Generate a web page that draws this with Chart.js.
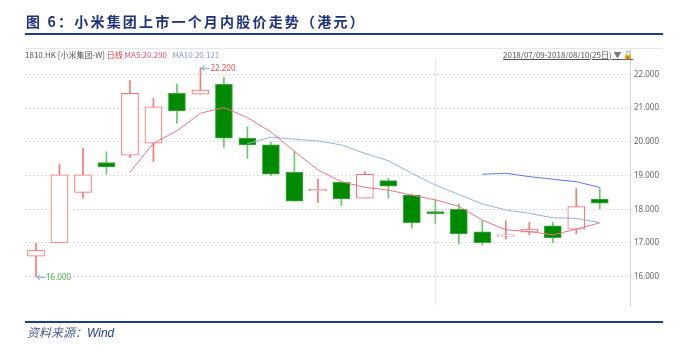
<!DOCTYPE html>
<html>
<head>
<meta charset="utf-8">
<script src="https://cdn.jsdelivr.net/npm/chart.js@4"></script>
<style>
  body { margin: 0; background: #fff; }
  #wrap { position: relative; width: 700px; height: 351px; overflow: hidden; }
  #title {
    position: absolute; left: 26px; top: 11px;
    font: bold 14px "Noto Sans CJK SC", sans-serif; color: #1d3180; letter-spacing: 2.2px;
    white-space: nowrap;
  }
  #titleLine { position: absolute; left: 25px; top: 33px; width: 638px; height: 2px; background: #1f3c99; }
  #info {
    position: absolute; left: 25px; top: 49px;
    font: 8px "Noto Sans CJK SC", sans-serif; color: #555; white-space: nowrap;
  }
  #range {
    position: absolute; left: 503px; top: 49px;
    font: 8px "Noto Sans CJK SC", sans-serif; color: #555; white-space: nowrap; text-decoration: underline;
  }
  #srcLine { position: absolute; left: 25px; top: 321px; width: 638px; height: 2px; background: #1f3c99; }
  #source { position: absolute; left: 27px; top: 323px; font-size: 12px; white-space: nowrap; }
  #source .cn { font-family: "Noto Sans CJK SC", sans-serif; font-style: italic; color: #4a5a8f; }
  #source .en { font-family: "Liberation Sans", Arial, sans-serif; font-style: italic; color: #1f3c99; }
  canvas { position: absolute; left: 0; top: 0; }
</style>
</head>
<body>
<div id="wrap">
  <canvas id="kline" width="700" height="351"></canvas>
  <div id="title">图 6：小米集团上市一个月内股价走势（港元）</div>
  <div id="titleLine"></div>
  <div id="info">1810.HK [小米集团-W] <span style="color:#e03c3c">日线</span> <span style="color:#e8506a">MA5:20.290</span>&nbsp;&nbsp;&nbsp;<span style="color:#7c9dcc">MA10:20.121</span></div>
  <div id="range">2018/07/09-2018/08/10(25日)<span style="text-decoration:none;color:#777"> ▼ </span><span style="color:#f0a020">🔓</span></div>
  <div id="srcLine"></div>
  <div id="source"><span class="cn">资料来源：</span><span class="en">Wind</span></div>
</div>
<script>
// Trading days 2018/07/09 - 2018/08/10
const dates = ["07/09", "07/10", "07/11", "07/12", "07/13", "07/16", "07/17", "07/18", "07/19", "07/20",
    "07/23", "07/24", "07/25", "07/26", "07/27", "07/30", "07/31", "08/01", "08/02", "08/03",
    "08/06", "08/07", "08/08", "08/09", "08/10"];

const opens = [16.61, 17.00, 18.50, 19.39, 19.61, 19.96, 21.44, 21.42, 21.71, 20.11, 19.91, 19.10, 18.55,
    18.80, 18.33, 18.85, 18.42, 17.93, 18.00, 17.33, 17.20, 17.32, 17.51, 17.41, 18.30];
const closes = [16.79, 19.02, 19.02, 19.26, 21.44, 21.04, 20.92, 21.54, 20.11, 19.91, 19.04, 18.24, 18.59,
    18.31, 19.04, 18.69, 17.60, 17.87, 17.27, 17.01, 17.24, 17.41, 17.16, 18.08, 18.18];
const highs = [17.00, 19.34, 19.81, 19.71, 21.82, 21.29, 21.72, 22.20, 21.92, 20.45, 19.99, 19.71, 18.89,
    18.82, 19.12, 18.92, 18.45, 18.28, 18.16, 17.65, 17.66, 17.61, 17.61, 18.62, 18.62];
const lows = [16.00, 17.00, 18.33, 19.04, 19.53, 19.41, 20.55, 21.42, 19.84, 19.51, 19.00, 18.24, 18.20,
    18.11, 18.33, 18.33, 17.44, 17.58, 16.97, 16.93, 17.12, 17.24, 17.01, 17.27, 18.01];

const ma5 = [null, null, null, null, 19.10, 19.96, 20.33, 20.85, 21.02, 20.72, 20.30, 19.72, 19.17,
    18.82, 18.65, 18.57, 18.42, 18.28, 18.09, 17.68, 17.39, 17.34, 17.24, 17.41, 17.60];
const ma10 = [null, null, null, null, null, null, null, null, null, 19.95, 20.14, 20.08, 20.03,
    19.91, 19.66, 19.44, 19.07, 18.72, 18.44, 18.16, 17.98, 17.88, 17.75, 17.73, 17.61];
const ma20 = [null, null, null, null, null, null, null, null, null, null, null, null, null,
    null, null, null, null, null, null, 19.04, 19.07, 18.97, 18.89, 18.82, 18.65];

const yTicks = [16, 17, 18, 19, 20, 21, 22];
const monthStart = dates.indexOf("08/01");

const colors = {
    upBorder: "#f46a6a",
    upWick: "#f47a7a",
    downFill: "#008a00",
    downBorder: "#3ea83e",
    downWick: "#6cc86c",
    ma5: "#ec7484",
    ma10: "#94b2d8",
    ma20: "#5a78ea",
};

const isUp = opens.map((o, i) => closes[i] >= o);

function lineData(arr) {
    return arr.map((v, i) => ({ x: i, y: v })).filter((p) => p.y !== null);
}

// high / low arrows
const markerPlugin = {
    id: "markers",
    afterDatasetsDraw(chart) {
        const { ctx, scales } = chart;
        const hiIdx = highs.indexOf(Math.max(...highs));
        const loIdx = lows.indexOf(Math.min(...lows));
        const marks = [
            { i: hiIdx, v: highs[hiIdx], color: "#e85050" },
            { i: loIdx, v: lows[loIdx], color: "#4caf50" },
        ];
        ctx.save();
        ctx.font = "8px 'Noto Sans', sans-serif";
        ctx.textBaseline = "middle";
        marks.forEach((m) => {
            const x = scales.x.getPixelForValue(m.i) + 1;
            const y = scales.y.getPixelForValue(m.v);
            ctx.strokeStyle = "#6aa8e0";
            ctx.lineWidth = 1;
            ctx.beginPath();
            ctx.moveTo(x, y + 0.5);
            ctx.lineTo(x + 8, y + 0.5);
            ctx.moveTo(x, y + 0.5);
            ctx.lineTo(x + 3, y - 2);
            ctx.moveTo(x, y + 0.5);
            ctx.lineTo(x + 3, y + 3);
            ctx.stroke();
            ctx.fillStyle = m.color;
            ctx.fillText(m.v.toFixed(3), x + 9, y + 1);
        });
        ctx.restore();
    },
    beforeDatasetsDraw(chart) {
        const { ctx, scales, chartArea } = chart;
        ctx.save();
        ctx.strokeStyle = "#e6e6e6";
        ctx.lineWidth = 1;
        // frame top line
        ctx.beginPath();
        ctx.moveTo(chartArea.left, chartArea.top - 0.5);
        ctx.lineTo(663, chartArea.top - 0.5);
        ctx.stroke();
        // month separator
        const mx = Math.round(scales.x.getPixelForValue(monthStart)) + 0.5;
        ctx.beginPath();
        ctx.moveTo(mx, chartArea.top + 9);
        ctx.lineTo(mx, chartArea.bottom);
        ctx.stroke();
        ctx.restore();
    },
};

function init() {
    const ctx = document.getElementById("kline");

    new Chart(ctx, {
        type: "bar",
        data: {
            datasets: [
                {
                    type: "line",
                    label: "MA5",
                    data: lineData(ma5),
                    borderColor: colors.ma5,
                    borderWidth: 1,
                    pointRadius: 0,
                    order: 1,
                },
                {
                    type: "line",
                    label: "MA10",
                    data: lineData(ma10),
                    borderColor: colors.ma10,
                    borderWidth: 1,
                    pointRadius: 0,
                    order: 1,
                },
                {
                    type: "line",
                    label: "MA20",
                    data: lineData(ma20),
                    borderColor: colors.ma20,
                    borderWidth: 1,
                    pointRadius: 0,
                    order: 1,
                },
                {
                    label: "body",
                    data: opens.map((o, i) => ({ x: i, y: [o, closes[i]] })),
                    backgroundColor: isUp.map((u) => (u ? "#ffffff" : colors.downFill)),
                    borderColor: isUp.map((u) => (u ? colors.upBorder : colors.downBorder)),
                    borderWidth: 1,
                    borderSkipped: false,
                    barThickness: 17,
                    grouped: false,
                    order: 2,
                },
                {
                    label: "wick",
                    data: lows.map((l, i) => ({ x: i, y: [l, highs[i]] })),
                    backgroundColor: isUp.map((u) => (u ? colors.upWick : colors.downWick)),
                    barThickness: 1,
                    grouped: false,
                    order: 3,
                },
            ],
        },
        options: {
            responsive: false,
            animation: false,
            events: [],
            layout: { padding: { left: 25, right: 0, top: 49, bottom: 46 } },
            plugins: {
                legend: { display: false },
                tooltip: { enabled: false },
            },
            scales: {
                x: {
                    type: "linear",
                    min: -0.468,
                    max: 25.287,
                    offset: false,
                    grid: { offset: false },
                    display: false,
                },
                y: {
                    position: "right",
                    min: 15.16,
                    max: 22.757,
                    afterBuildTicks: (axis) => {
                        axis.ticks = yTicks.map((v) => ({ value: v }));
                    },
                    afterFit: (axis) => {
                        axis.width = 70;
                    },
                    ticks: {
                        color: "#666",
                        padding: 4,
                        font: { size: 8, family: "'Noto Sans', sans-serif" },
                        callback: (value) => Number(value).toFixed(3),
                    },
                    grid: { color: "#dedede", drawTicks: false },
                    border: { color: "#d4d4d4", dash: [2, 2] },
                },
            },
        },
        plugins: [markerPlugin],
    });
}

init();
</script>
</body>
</html>
